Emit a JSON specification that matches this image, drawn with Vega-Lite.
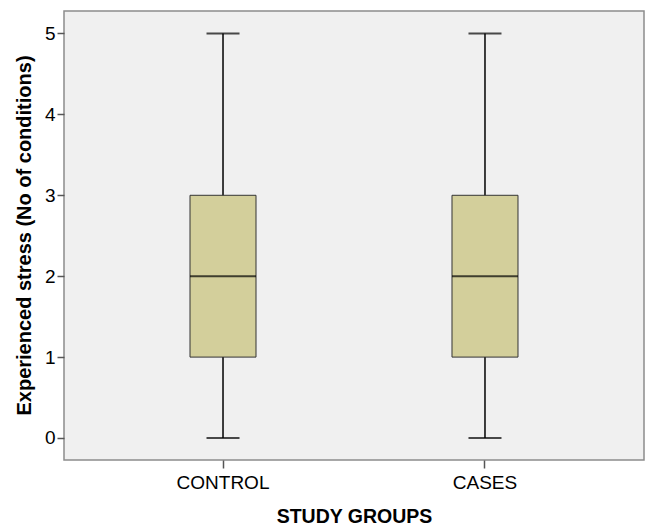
{
  "$schema": "https://vega.github.io/schema/vega-lite/v6.json",
  "width": 580,
  "height": 449,
  "autosize": "none",
  "padding": {"left": 64, "top": 11, "right": 4, "bottom": 65},
  "background": "white",
  "config": {
    "view": {"fill": "#F0F0F0", "stroke": "#8C8C8C", "strokeWidth": 1.5},
    "font": "Liberation Sans"
  },
  "data": {
    "values": [
      {"group": "CONTROL", "min": 0, "q1": 1, "median": 2, "q3": 3, "max": 5},
      {"group": "CASES", "min": 0, "q1": 1, "median": 2, "q3": 3, "max": 5}
    ]
  },
  "encoding": {
    "x": {
      "field": "group",
      "type": "nominal",
      "sort": ["CONTROL", "CASES"],
      "scale": {"paddingInner": 0, "paddingOuter": 0.107},
      "axis": {
        "title": "STUDY GROUPS",
        "titleFontSize": 19.5,
        "titleFontWeight": "bold",
        "titleColor": "black",
        "titleBaseline": "alphabetic",
        "titleY": 62,
        "labelAngle": 0,
        "labelFontSize": 19,
        "labelColor": "black",
        "labelPadding": 5,
        "tickSize": 8,
        "tickColor": "#555",
        "tickWidth": 1.5,
        "domain": false
      }
    }
  },
  "layer": [
    {
      "mark": {"type": "rule", "color": "black", "strokeWidth": 1.5},
      "encoding": {
        "y": {
          "field": "min",
          "type": "quantitative",
          "scale": {"domain": [-0.272, 5.278], "nice": false, "zero": false},
          "axis": {
            "title": "Experienced stress (No of conditions)",
            "titleFontSize": 20,
            "titleFontWeight": "bold",
            "titleColor": "black",
            "titleBaseline": "middle",
            "titleX": -40,
            "titleY": 224,
            "values": [0, 1, 2, 3, 4, 5],
            "format": "d",
            "labelFontSize": 19,
            "labelColor": "black",
            "labelPadding": 2,
            "tickSize": 7,
            "tickColor": "#555",
            "tickWidth": 1.5,
            "grid": false,
            "domain": false
          }
        },
        "y2": {"field": "max"}
      }
    },
    {
      "mark": {"type": "bar", "size": 66, "fill": "#D3CF9B", "stroke": "#333", "strokeWidth": 1},
      "encoding": {
        "y": {"field": "q1", "type": "quantitative"},
        "y2": {"field": "q3"}
      }
    },
    {
      "mark": {"type": "tick", "size": 66, "thickness": 2, "color": "black"},
      "encoding": {"y": {"field": "median", "type": "quantitative"}}
    },
    {
      "mark": {"type": "tick", "size": 33, "thickness": 2, "color": "black"},
      "encoding": {"y": {"field": "min", "type": "quantitative"}}
    },
    {
      "mark": {"type": "tick", "size": 33, "thickness": 2, "color": "black"},
      "encoding": {"y": {"field": "max", "type": "quantitative"}}
    }
  ]
}
